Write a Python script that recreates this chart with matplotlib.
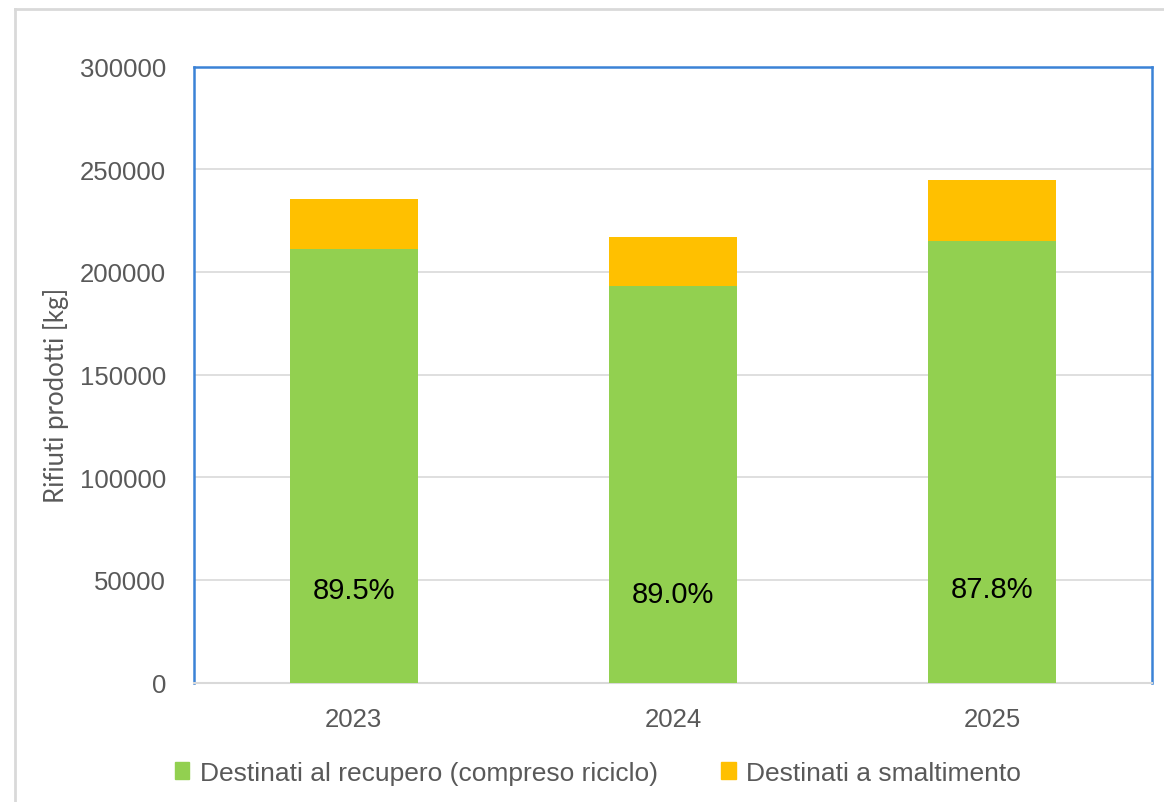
import matplotlib.pyplot as plt
from matplotlib.lines import Line2D
from matplotlib.patches import Patch

years = ["2023", "2024", "2025"]
recupero = [211000, 193200, 214900]
smaltimento = [24700, 23800, 29900]
pct_labels = ["89.5%", "89.0%", "87.8%"]
label_y = [45000, 43300, 45700]

GREEN = "#92D050"
ORANGE = "#FFC000"
TEXT = "#595959"
GRID = "#D9D9D9"
BLUE = "#3B82D6"

plt.rcParams["font.family"] = ["Liberation Sans", "DejaVu Sans"]

fig = plt.figure(figsize=(11.64, 8.03), dpi=100)
ax = fig.add_axes([194 / 1164, 1 - 683.5 / 803, (1152 - 194) / 1164, (683.5 - 67.5) / 803])

x = range(len(years))
ax.bar(x, recupero, width=0.4, color=GREEN, zorder=3)
ax.bar(x, smaltimento, width=0.4, bottom=recupero, color=ORANGE, zorder=3)

for i, (txt, y) in enumerate(zip(pct_labels, label_y)):
    ax.text(i, y, txt, ha="center", va="center", fontsize=21, color="black", zorder=4)

ax.set_xlim(-0.5, 2.5)
ax.set_ylim(0, 300000)
ax.set_yticks(range(0, 300001, 50000))
ax.set_xticks(list(x))
ax.set_xticklabels(years)
ax.yaxis.grid(True, color=GRID, linewidth=1.2, zorder=0)
ax.tick_params(axis="both", length=0, labelsize=18.5, labelcolor=TEXT)
ax.tick_params(axis="y", pad=20)
ax.tick_params(axis="x", pad=18)

for side in ["left", "top", "right"]:
    ax.spines[side].set_color(BLUE)
    ax.spines[side].set_linewidth(1.8)
ax.spines["bottom"].set_color(GRID)
ax.spines["bottom"].set_linewidth(1.5)

ax.set_ylabel("Rifiuti prodotti [kg]", fontsize=18.5, color=TEXT, family=["Lato", "DejaVu Sans"])
ax.yaxis.set_label_coords(-0.131, 0.467)

# outer chart frame (partly cut off at the right and bottom)
fx = 14.5 / 1164
fy = 1 - 9.5 / 803
fig.add_artist(Line2D([fx, fx], [0, fy], color=GRID, linewidth=2, transform=fig.transFigure))
fig.add_artist(Line2D([fx, 1], [fy, fy], color=GRID, linewidth=2, transform=fig.transFigure))

handles = [Patch(color=GREEN), Patch(color=ORANGE)]
fig.legend(handles, ["Destinati al recupero (compreso riciclo)", "Destinati a smaltimento"],
           loc="center", bbox_to_anchor=(598 / 1164, 1 - 774 / 803), ncol=2, frameon=False,
           fontsize=19, labelcolor=TEXT, handlelength=0.55, handleheight=0.6,
           handletextpad=0.4, columnspacing=2.4)

fig.savefig("out.png", dpi=100)
